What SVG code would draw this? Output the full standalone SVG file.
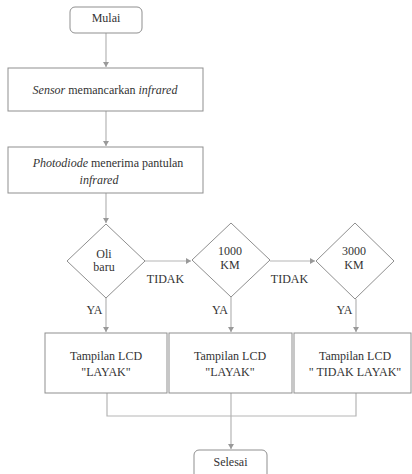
<svg xmlns="http://www.w3.org/2000/svg" width="412" height="474" viewBox="0 0 412 474">
<style>
.b{fill:#fff;stroke:#8f8f8f;stroke-width:1}
.t{font-family:'Liberation Serif','Times New Roman','DejaVu Serif',serif;font-size:12px;fill:#333;text-anchor:middle}
.i{font-style:italic}
.c{fill:none;stroke:#b5b5b5;stroke-width:1.2}
</style>
<defs>
<marker id="ah" markerWidth="6" markerHeight="6" refX="5" refY="3" orient="auto" markerUnits="userSpaceOnUse">
<path d="M0,0 L5,3 L0,6 Z" fill="#999"/>
</marker>
</defs>
<rect width="412" height="474" fill="#fff"/>
<g id="connectors">
<line class="c" x1="106" y1="33" x2="106" y2="67" marker-end="url(#ah)"/>
<line class="c" x1="106" y1="111" x2="106" y2="146" marker-end="url(#ah)"/>
<line class="c" x1="106" y1="193" x2="106" y2="223" marker-end="url(#ah)"/>
<line class="c" x1="145" y1="261" x2="191" y2="261" marker-end="url(#ah)"/>
<line class="c" x1="270" y1="261" x2="315" y2="261" marker-end="url(#ah)"/>
<line class="c" x1="106" y1="298" x2="106" y2="332" marker-end="url(#ah)"/>
<line class="c" x1="231" y1="297" x2="231" y2="332" marker-end="url(#ah)"/>
<line class="c" x1="356" y1="299" x2="356" y2="332" marker-end="url(#ah)"/>
<polyline class="c" points="107,393 107,416 356,416 356,393"/>
<line class="c" x1="231" y1="393" x2="231" y2="449" marker-end="url(#ah)"/>
<text class="t" x="165.5" y="283" font-family="Liberation Serif, serif">TIDAK</text>
<text class="t" x="289.5" y="283">TIDAK</text>
<text class="t" x="94.5" y="314">YA</text>
<text class="t" x="220" y="314">YA</text>
<text class="t" x="344.5" y="314">YA</text>
</g>
<g id="mulai">
<rect class="b" x="70" y="7" width="72" height="26" rx="5"/>
<text class="t" x="106" y="22">Mulai</text>
</g>
<g id="sensor">
<rect class="b" x="8" y="68" width="195" height="43"/>
<text class="t" x="105" y="94"><tspan class="i">Sensor</tspan> memancarkan <tspan class="i">infrared</tspan></text>
</g>
<g id="photodiode">
<rect class="b" x="8" y="147" width="195" height="46"/>
<text class="t" x="108" y="167"><tspan class="i">Photodiode</tspan> menerima pantulan</text>
<text class="t i" x="99" y="184">infrared</text>
</g>
<g id="d1">
<polygon class="b" points="106,224 145,261 106,298 67,261"/>
<text class="t" x="104" y="258">Oli</text>
<text class="t" x="104" y="271">baru</text>
</g>
<g id="d2">
<polygon class="b" points="231,223 270,260 231,297 192,260"/>
<text class="t" x="230" y="255">1000</text>
<text class="t" x="230" y="269">KM</text>
</g>
<g id="d3">
<polygon class="b" points="355,223 394,261 355,299 316,261"/>
<text class="t" x="354" y="255">3000</text>
<text class="t" x="354" y="269">KM</text>
</g>
<g id="lcd1">
<rect class="b" x="45" y="333" width="122" height="60"/>
<text class="t" x="106" y="360">Tampilan LCD</text>
<text class="t" x="106" y="376">"LAYAK"</text>
</g>
<g id="lcd2">
<rect class="b" x="169" y="333" width="123" height="60"/>
<text class="t" x="230" y="360">Tampilan LCD</text>
<text class="t" x="230" y="376">"LAYAK"</text>
</g>
<g id="lcd3">
<rect class="b" x="294" y="333" width="117" height="60"/>
<text class="t" x="355" y="360">Tampilan LCD</text>
<text class="t" x="355" y="376">" TIDAK LAYAK"</text>
</g>
<g id="selesai">
<rect class="b" x="194" y="450" width="73" height="32" rx="5"/>
<text class="t" x="230.5" y="466">Selesai</text>
</g>
</svg>
